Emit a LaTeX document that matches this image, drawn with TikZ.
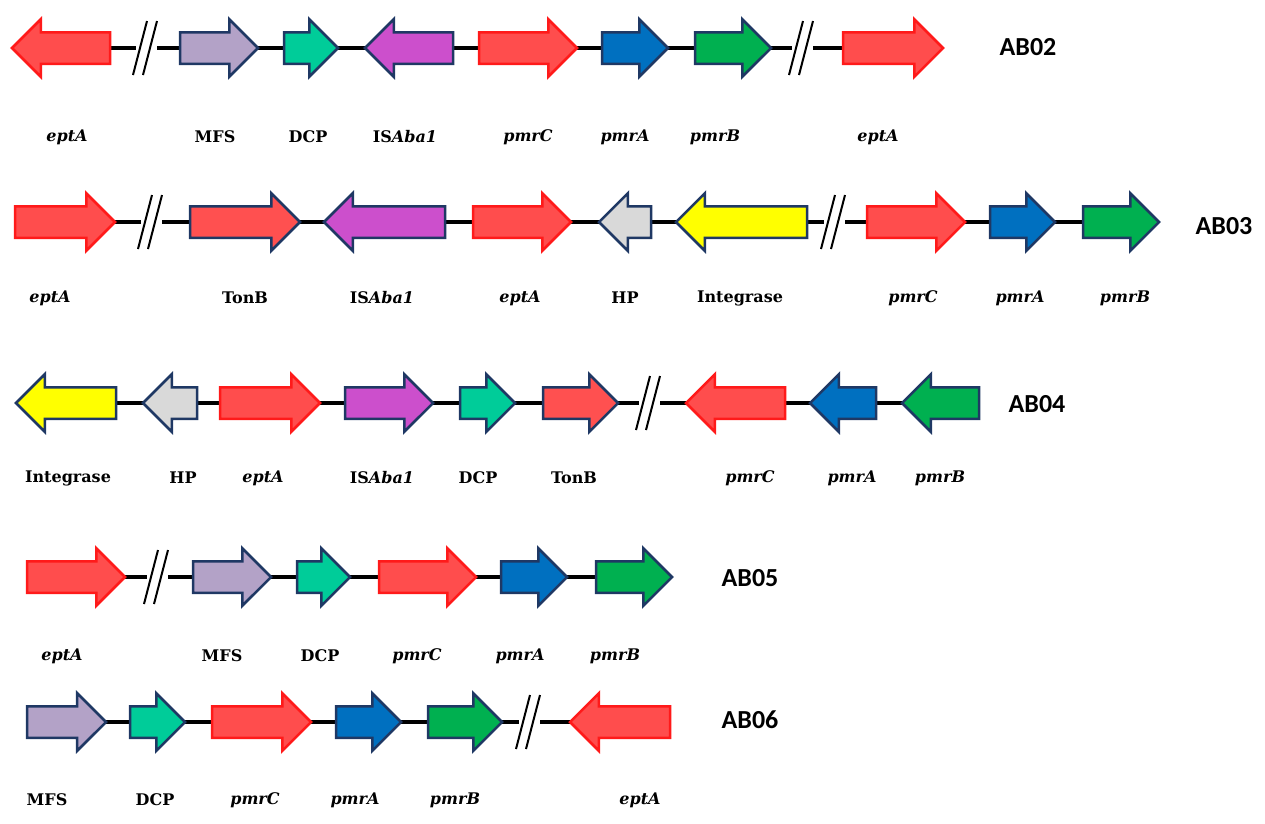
\documentclass[tikz,border=0pt]{standalone}
\usepackage{fontspec}
\setmainfont{DejaVu Serif}
\newfontfamily\abfont{Carlito}
\usetikzlibrary{shapes.arrows,backgrounds,calc}
\definecolor{redfill}{HTML}{FF4D4D}
\definecolor{reddraw}{HTML}{FF1A1A}
\definecolor{navy}{HTML}{1F3864}
\definecolor{mfscol}{HTML}{B3A2C7}
\definecolor{dcpcol}{HTML}{00CC99}
\definecolor{iscol}{HTML}{CC4FCC}
\definecolor{pmracol}{HTML}{0070C0}
\definecolor{pmrbcol}{HTML}{00B050}
\definecolor{tonbcol}{HTML}{FF5050}
\definecolor{hpcol}{HTML}{D9D9D9}
\definecolor{intcol}{HTML}{FFFF00}
\tikzset{
  gene/.style={single arrow, single arrow head extend=13pt, single arrow tip angle=90,
    single arrow head indent=0pt, minimum width=55pt, inner xsep=0pt, inner ysep=14.5pt,
    outer sep=0pt, line width=2.5pt, draw=navy, anchor=tail},
  lft/.style={shape border rotate=180},
  ept/.style={gene, fill=redfill, draw=reddraw},
  mfs/.style={gene, fill=mfscol},
  dcp/.style={gene, fill=dcpcol},
  isg/.style={gene, fill=iscol},
  pra/.style={gene, fill=pmracol},
  prb/.style={gene, fill=pmrbcol},
  tnb/.style={gene, fill=tonbcol},
  hpg/.style={gene, fill=hpcol},
  ing/.style={gene, fill=intcol},
  bb/.style={line width=3.5pt, black},
  slash/.style={line width=2pt, black},
  lab/.style={font=\bfseries\fontsize{16}{18}\selectfont, inner sep=0pt},
  ab/.style={font=\abfont\bfseries\fontsize{26}{28}\selectfont, inner sep=0pt},
}
\newcommand\brk[3]{%
  \coordinate (#1) at (#2,#3);
  \coordinate (#1l) at (#2-9,#3);
  \coordinate (#1r) at (#2+12,#3);
  \draw[slash] ($(#1)+(-12,27)$) -- ($(#1)+(2,-27)$);
  \draw[slash] ($(#1)+(-2,27)$) -- ($(#1)+(12,-27)$);
}
\begin{document}
\begin{tikzpicture}[x=1pt,y=-1pt]
\useasboundingbox (0,0) rectangle (1265,823);

% ---------------- AB02 ----------------
\node[ept,lft,minimum height=98pt] (a1) at (110,48) {};
\node[mfs,minimum height=78pt] (a2) at (180,48) {};
\node[dcp,minimum height=54pt] (a3) at (284,48) {};
\node[isg,lft,minimum height=88pt] (a4) at (453,48) {};
\node[ept,minimum height=98pt] (a5) at (479,48) {};
\node[pra,minimum height=66pt] (a6) at (602,48) {};
\node[prb,minimum height=76pt] (a7) at (695,48) {};
\node[ept,minimum height=100pt] (a8) at (843,48) {};
\brk{k1}{145}{48}
\brk{k2}{801}{48}
\begin{pgfonlayer}{background}
\draw[bb] (a1) -- (k1l); \draw[bb] (k1r) -- (a2);
\draw[bb] (a2) -- (a3); \draw[bb] (a3) -- (a4); \draw[bb] (a4) -- (a5);
\draw[bb] (a5) -- (a6); \draw[bb] (a6) -- (a7);
\draw[bb] (a7) -- (k2l); \draw[bb] (k2r) -- (a8);
\end{pgfonlayer}
\node[ab] (ab02) at (1028,47) {AB02};
\node[lab] (la1) at (67,137) {\textit{eptA}};
\node[lab] (la2) at (215,137) {MFS};
\node[lab] (la3) at (308,137) {DCP};
\node[lab] (la4) at (405,137) {IS\textit{Aba1}};
\node[lab] (la5) at (528,137) {\textit{pmrC}};
\node[lab] (la6) at (625,137) {\textit{pmrA}};
\node[lab] (la7) at (715,137) {\textit{pmrB}};
\node[lab] (la8) at (878,137) {\textit{eptA}};

% ---------------- AB03 ----------------
\node[ept,minimum height=100pt] (b1) at (15,222) {};
\node[tnb,minimum height=110pt] (b2) at (190,222) {};
\node[isg,lft,minimum height=121pt] (b3) at (445,222) {};
\node[ept,minimum height=98pt] (b4) at (473,222) {};
\node[hpg,lft,minimum height=52pt] (b5) at (651,222) {};
\node[ing,lft,minimum height=131pt] (b6) at (807,222) {};
\node[ept,minimum height=98pt] (b7) at (867,222) {};
\node[pra,minimum height=65pt] (b8) at (990,222) {};
\node[prb,minimum height=76pt] (b9) at (1083,222) {};
\brk{k3}{150}{222}
\brk{k4}{833}{222}
\begin{pgfonlayer}{background}
\draw[bb] (b1) -- (k3l); \draw[bb] (k3r) -- (b2);
\draw[bb] (b2) -- (b3); \draw[bb] (b3) -- (b4); \draw[bb] (b4) -- (b5);
\draw[bb] (b5) -- (b6); \draw[bb] (b6) -- (k4l); \draw[bb] (k4r) -- (b7);
\draw[bb] (b7) -- (b8); \draw[bb] (b8) -- (b9);
\end{pgfonlayer}
\node[ab] (ab03) at (1224,226) {AB03};
\node[lab] (lb1) at (50,298) {\textit{eptA}};
\node[lab] (lb2) at (245,298) {TonB};
\node[lab] (lb3) at (382,298) {IS\textit{Aba1}};
\node[lab] (lb4) at (520,298) {\textit{eptA}};
\node[lab] (lb5) at (625,298) {HP};
\node[lab] (lb6) at (740,298) {Integrase};
\node[lab] (lb7) at (913,298) {\textit{pmrC}};
\node[lab] (lb8) at (1020,298) {\textit{pmrA}};
\node[lab] (lb9) at (1125,298) {\textit{pmrB}};

% ---------------- AB04 ----------------
\node[ing,lft,minimum height=100pt] (c1) at (116,403) {};
\node[hpg,lft,minimum height=54pt] (c2) at (197,403) {};
\node[ept,minimum height=100pt] (c3) at (220,403) {};
\node[isg,minimum height=88pt] (c4) at (345,403) {};
\node[dcp,minimum height=55pt] (c5) at (460,403) {};
\node[tnb,minimum height=75pt] (c6) at (543,403) {};
\node[ept,lft,minimum height=99pt] (c7) at (785,403) {};
\node[pra,lft,minimum height=66pt] (c8) at (876,403) {};
\node[prb,lft,minimum height=77pt] (c9) at (979,403) {};
\brk{k5}{648}{403}
\begin{pgfonlayer}{background}
\draw[bb] (c1) -- (c2); \draw[bb] (c2) -- (c3); \draw[bb] (c3) -- (c4);
\draw[bb] (c4) -- (c5); \draw[bb] (c5) -- (c6);
\draw[bb] (c6) -- (k5l); \draw[bb] (k5r) -- (c7);
\draw[bb] (c7) -- (c8); \draw[bb] (c8) -- (c9);
\end{pgfonlayer}
\node[ab] (ab04) at (1037,404) {AB04};
\node[lab] (lc1) at (68,478) {Integrase};
\node[lab] (lc2) at (183,478) {HP};
\node[lab] (lc3) at (263,478) {\textit{eptA}};
\node[lab] (lc4) at (382,478) {IS\textit{Aba1}};
\node[lab] (lc5) at (478,478) {DCP};
\node[lab] (lc6) at (574,478) {TonB};
\node[lab] (lc7) at (750,478) {\textit{pmrC}};
\node[lab] (lc8) at (852,478) {\textit{pmrA}};
\node[lab] (lc9) at (940,478) {\textit{pmrB}};

% ---------------- AB05 ----------------
\node[ept,minimum height=98pt] (d1) at (27,577) {};
\node[mfs,minimum height=78pt] (d2) at (193,577) {};
\node[dcp,minimum height=53pt] (d3) at (297,577) {};
\node[ept,minimum height=97pt] (d4) at (379,577) {};
\node[pra,minimum height=66pt] (d5) at (501,577) {};
\node[prb,minimum height=76pt] (d6) at (596,577) {};
\brk{k6}{156}{577}
\begin{pgfonlayer}{background}
\draw[bb] (d1) -- (k6l); \draw[bb] (k6r) -- (d2);
\draw[bb] (d2) -- (d3); \draw[bb] (d3) -- (d4); \draw[bb] (d4) -- (d5);
\draw[bb] (d5) -- (d6);
\end{pgfonlayer}
\node[ab] (ab05) at (750,578) {AB05};
\node[lab] (ld1) at (62,656) {\textit{eptA}};
\node[lab] (ld2) at (222,656) {MFS};
\node[lab] (ld3) at (320,656) {DCP};
\node[lab] (ld4) at (417,656) {\textit{pmrC}};
\node[lab] (ld5) at (520,656) {\textit{pmrA}};
\node[lab] (ld6) at (615,656) {\textit{pmrB}};

% ---------------- AB06 ----------------
\node[mfs,minimum height=79pt] (e1) at (27,722) {};
\node[dcp,minimum height=55pt] (e2) at (130,722) {};
\node[ept,minimum height=99pt] (e3) at (212,722) {};
\node[pra,minimum height=65pt] (e4) at (336,722) {};
\node[prb,minimum height=74pt] (e5) at (428,722) {};
\node[ept,lft,minimum height=100pt] (e6) at (670,722) {};
\brk{k7}{528}{722}
\begin{pgfonlayer}{background}
\draw[bb] (e1) -- (e2); \draw[bb] (e2) -- (e3); \draw[bb] (e3) -- (e4);
\draw[bb] (e4) -- (e5); \draw[bb] (e5) -- (k7l); \draw[bb] (k7r) -- (e6);
\end{pgfonlayer}
\node[ab] (ab06) at (750,720) {AB06};
\node[lab] (le1) at (47,800) {MFS};
\node[lab] (le2) at (155,800) {DCP};
\node[lab] (le3) at (255,800) {\textit{pmrC}};
\node[lab] (le4) at (355,800) {\textit{pmrA}};
\node[lab] (le5) at (455,800) {\textit{pmrB}};
\node[lab] (le6) at (640,800) {\textit{eptA}};
\end{tikzpicture}
\end{document}
